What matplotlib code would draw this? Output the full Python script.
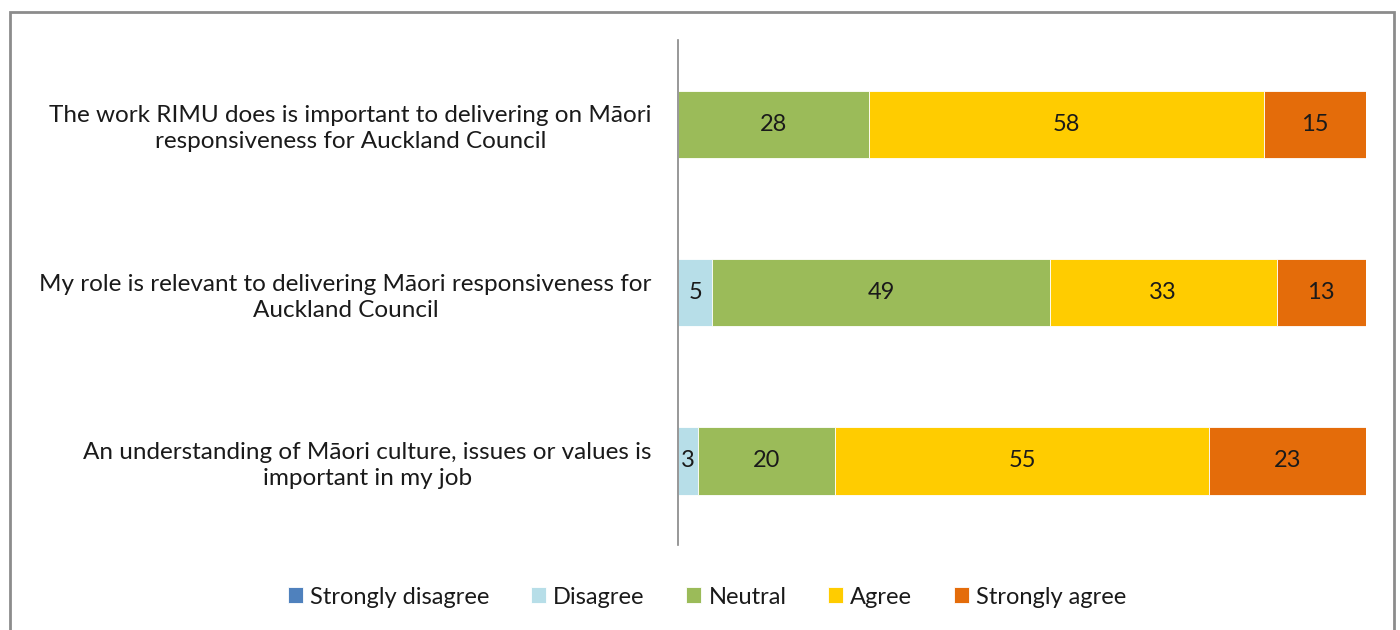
import matplotlib
matplotlib.use("Agg")
import matplotlib.pyplot as plt
from matplotlib.patches import Rectangle
import numpy as np

plt.rcParams['font.family'] = ['Lato', 'DejaVu Sans']

statements = [
    "The work RIMU does is important to delivering on Māori\nresponsiveness for Auckland Council",
    "My role is relevant to delivering Māori responsiveness for\nAuckland Council",
    "An understanding of Māori culture, issues or values is\nimportant in my job",
]
series = ["Strongly disagree", "Disagree", "Neutral", "Agree", "Strongly agree"]
strongly_disagree = [0, 0, 0]
disagree = [0, 5, 3]
neutral = [28, 49, 20]
agree = [58, 33, 55]
strongly_agree = [15, 13, 23]
colors = ["#4F81BD", "#B7DEE8", "#9BBB59", "#FFCC00", "#E46C0A"]

data = np.array([strongly_disagree, disagree, neutral, agree, strongly_agree], dtype=float)
totals = data.sum(axis=0)
pct = data / totals * 100

fig = plt.figure(figsize=(14, 6.3), dpi=100)
W, H = 1400, 630
# outer frame
fig.patches.append(Rectangle((10 / W, -0.1), (1394 - 10) / W, (630 - 12) / H + 0.1,
                             transform=fig.transFigure, fill=False,
                             edgecolor="#8c8c8c", linewidth=2))

ax = fig.add_axes([678 / W, 1 - 545 / H, (1366 - 678) / W, (545 - 40) / H])
y = np.arange(len(statements))
left = np.zeros(len(statements))
for i, name in enumerate(series):
    ax.barh(y, pct[i], left=left, height=0.4, color=colors[i], label=name,
            edgecolor="white", linewidth=0.6)
    for j in range(len(statements)):
        if data[i, j] > 0:
            ax.text(left[j] + pct[i, j] / 2, y[j], f"{int(data[i, j])}",
                    ha="center", va="center", fontsize=17, color="#1a1a1a")
    left += pct[i]

ax.set_xlim(0, 100)
ax.set_ylim(len(statements) - 0.5, -0.5)
ax.set_yticks(y)
ax.set_yticklabels(statements, fontsize=17.5, color="#1a1a1a", ha="right",
                   multialignment="center", linespacing=1.3)
ax.tick_params(axis="y", length=0, pad=19)
ax.set_xticks([])
for s in ["top", "right", "bottom"]:
    ax.spines[s].set_visible(False)
ax.spines["left"].set_color("#868686")
ax.spines["left"].set_linewidth(1.2)

handles, labels = ax.get_legend_handles_labels()
fig.legend(handles, labels, loc="center", bbox_to_anchor=(707 / W, 1 - 597 / H),
           ncol=5, frameon=False, fontsize=17, handlelength=0.65, handleheight=0.65,
           handletextpad=0.3, columnspacing=1.75, labelcolor="#1a1a1a")

fig.savefig("out.png", dpi=100)
